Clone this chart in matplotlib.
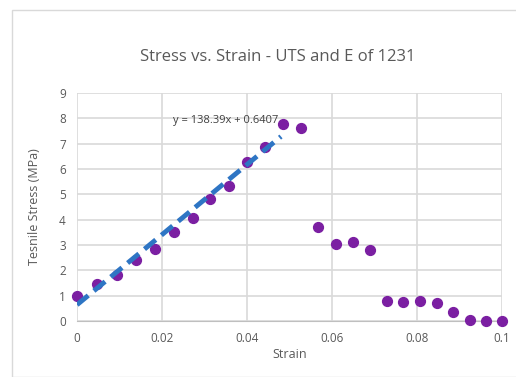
import numpy as np
import matplotlib.pyplot as plt
from matplotlib.patches import Rectangle

# Stress-strain readings for sample 1231
strain = [0.0, 0.0048, 0.0093, 0.0139, 0.0183, 0.0228, 0.0272, 0.0314, 0.0357, 0.0401,
          0.0443, 0.0484, 0.0526, 0.0567, 0.0609, 0.0649, 0.069, 0.0729, 0.0768, 0.0807,
          0.0847, 0.0885, 0.0924, 0.0963, 0.0999]
stress = [1.0, 1.48, 1.8, 2.4, 2.85, 3.53, 4.05, 4.8, 5.33, 6.28,
          6.88, 7.76, 7.61, 3.7, 3.05, 3.13, 2.8, 0.78, 0.76, 0.78,
          0.72, 0.36, 0.02, 0.0, 0.0]

# linear trendline (elastic region)
SLOPE = 138.39
INTERCEPT = 0.6407
FIT_RANGE = [0.0, 0.048]

TEXT = '#595959'
GRID = '#D9D9D9'

plt.rcParams['font.family'] = ['Open Sans', 'DejaVu Sans']

fig = plt.figure(figsize=(5.16, 3.77), dpi=100)
border = Rectangle((12 / 516, 0), 1.0, 1 - 10 / 377, transform=fig.transFigure,
                   facecolor='white', edgecolor='#D9D9D9', linewidth=1.0, zorder=-1)
fig.patches.append(border)
ax = fig.add_axes([77 / 516, 1 - 321 / 377, (502 - 77) / 516, (321 - 93) / 377])
ax.patch.set_alpha(0)

ax.set_xlim(0, 0.1)
ax.set_ylim(0, 9)
ax.set_xticks(np.arange(0, 0.101, 0.02))
ax.set_xticklabels(['0', '0.02', '0.04', '0.06', '0.08', '0.1'])
ax.set_yticks(range(10))
ax.grid(True, color=GRID, linewidth=1.2)
ax.set_axisbelow(True)
for s in ['top', 'right', 'left']:
    ax.spines[s].set_visible(False)
ax.spines['bottom'].set_color('#BFBFBF')
ax.tick_params(length=0, colors=TEXT, labelsize=8.5, pad=8)

ax.scatter(strain, stress, s=50, color='#7B1FA2', zorder=3, clip_on=False)

fx = np.array(FIT_RANGE)
ax.plot(fx, SLOPE * fx + INTERCEPT, color='#2E75C4', linewidth=3.5, linestyle=(0, (3, 1.5)),
        zorder=4)
ax.text(0.0225, 7.8, 'y = 138.39x + 0.6407', color='#404040', fontsize=8)

ax.set_xlabel('Strain', color=TEXT, fontsize=9, labelpad=2)
ax.set_ylabel('Tesnile Stress (MPa)', color=TEXT, fontsize=9, labelpad=13)
fig.text(278 / 516, 1 - 57 / 377, 'Stress vs. Strain - UTS and E of 1231', ha='center', va='center',
         color=TEXT, fontsize=12)

plt.savefig('out.png', dpi=100)
